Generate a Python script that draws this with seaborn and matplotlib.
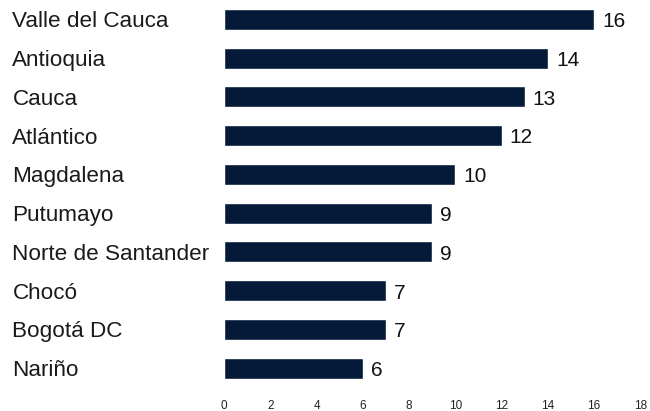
import matplotlib
matplotlib.use("Agg")
import matplotlib.pyplot as plt
import pandas as pd
import seaborn as sns

departments = [
    "Valle del Cauca", "Antioquia", "Cauca", "Atlántico", "Magdalena",
    "Putumayo", "Norte de Santander", "Chocó", "Bogotá DC", "Nariño",
]
counts = [16, 14, 13, 12, 10, 9, 9, 7, 7, 6]
x_ticks = [0, 2, 4, 6, 8, 10, 12, 14, 16, 18]

bar_color = "#051a38"

sns.set_style("white")
plt.rcParams["font.family"] = ["Liberation Sans", "DejaVu Sans"]

df = pd.DataFrame({"department": departments, "count": counts})

fig = plt.figure(figsize=(6.5, 4.11), dpi=100)
ax = fig.add_axes([0.345, 0.057, 0.640, 0.943])

sns.barplot(data=df, y="department", x="count", orient="h",
            color=bar_color, width=0.54, ax=ax, saturation=1)

ax.set_xlim(0, 18)
ax.set_ylim(9.5, -0.5)
ax.set_xticks(x_ticks)
ax.set_xticklabels([str(t) for t in x_ticks], fontsize=8.5, color="#222222")
ax.set_xlabel("")
ax.set_ylabel("")
for s in ax.spines.values():
    s.set_visible(False)
ax.tick_params(axis="x", length=0, pad=9)
ax.tick_params(axis="y", length=0, pad=152.5)
for lbl in ax.get_yticklabels():
    lbl.set_horizontalalignment("left")
    lbl.set_fontsize(16.2)
    lbl.set_color("#1a1a1a")

# value labels at the end of each bar
for i, v in enumerate(counts):
    ax.text(v + 0.35, i + 0.06, str(v), va="center", ha="left",
            fontsize=15, color="#111111")

fig.savefig("out.png", dpi=100)
